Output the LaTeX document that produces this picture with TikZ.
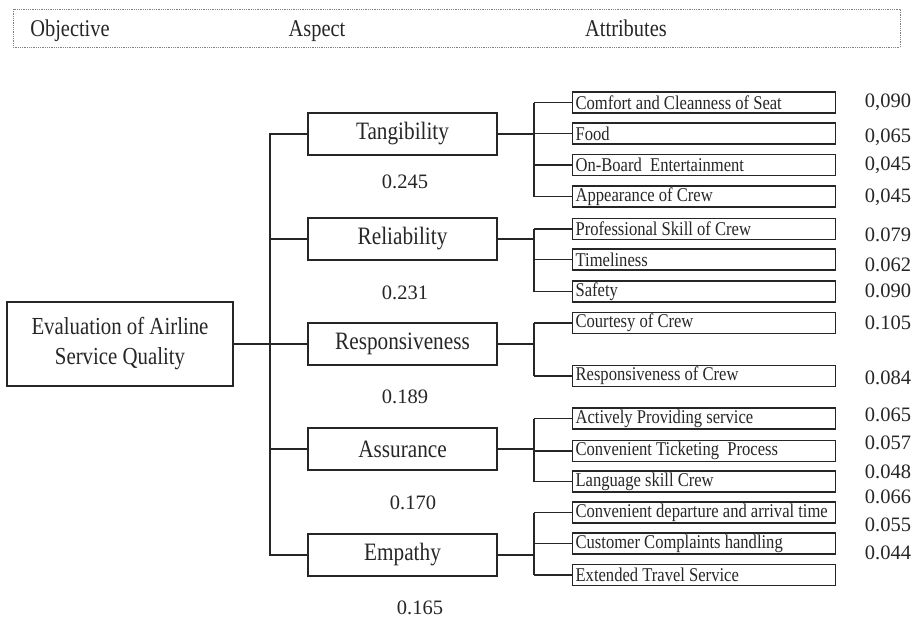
\documentclass[tikz,border=0pt]{standalone}
\usepackage{fontspec}
\newfontfamily\tnr[FakeStretch=0.85]{Liberation Serif}
\newfontfamily\tnn{Liberation Serif}
\newcommand{\lt}[1]{\makebox[257pt][l]{#1}}
\begin{document}
\begin{tikzpicture}[x=1pt,y=-1pt,
  lin/.style={draw=black!85,line width=1.2pt},
  objbox/.style={lin,rectangle,minimum width=226,minimum height=84,inner sep=0pt,align=center,
    font={\tnr\fontsize{24.5}{30}\selectfont},text=black!85},
  aspbox/.style={lin,rectangle,minimum width=189,minimum height=42,inner sep=0pt,
    font={\tnr\fontsize{25}{27}\selectfont},text=black!85},
  attrbox/.style={lin,rectangle,anchor=west,minimum height=21,minimum width=263,inner xsep=3pt,inner ysep=0pt,
    font={\tnr\fontsize{19.5}{21}\selectfont},text=black!85},
  num/.style={inner sep=0pt,font={\tnn\fontsize{20.5}{22}\selectfont},text=black!85},
  head/.style={inner sep=0pt,anchor=base,font={\tnr\fontsize{24}{26}\selectfont},text=black!85},
  conn/.style={draw=black!85,line width=1.1pt}]
\useasboundingbox (0,0) rectangle (918,622);
% header
\draw[black!50,densely dotted,line width=0.8pt] (13,9) rectangle (900,47);
\node[head] (hobj) at (70,36) {Objective};
\node[head] (hasp) at (317,36) {Aspect};
\node[head] (hatt) at (626,36) {Attributes};
% objective
\node[objbox] (obj) at (120,344) {Evaluation of Airline\\Service Quality};
% aspects
\node[aspbox] (tang) at (402.5,134) {Tangibility};
\node[aspbox] (rel) at (402.5,239) {Reliability};
\node[aspbox] (resp) at (402.5,344) {Responsiveness};
\node[aspbox] (ass) at (402.5,449) {Assurance};
\node[aspbox] (emp) at (402.5,555) {Empathy};
\node[num] (wt) at (405,182) {0.245};
\node[num] (wr) at (405,293) {0.231};
\node[num] (wp) at (405,397) {0.189};
\node[num] (wa) at (413,503) {0.170};
\node[num] (we) at (420,608) {0.165};
% attributes
\node[attrbox] (a1) at (572,102.5) {\lt{Comfort and Cleanness of Seat}};
\node[attrbox] (a2) at (572,133.5) {\lt{Food}};
\node[attrbox] (a3) at (572,165) {\lt{On-Board\ \ Entertainment}};
\node[attrbox] (a4) at (572,196.5) {\lt{Appearance of Crew}};
\node[attrbox] (b1) at (572,229) {\lt{Professional Skill of Crew}};
\node[attrbox] (b2) at (572,259.5) {\lt{Timeliness}};
\node[attrbox] (b3) at (572,291.5) {\lt{Safety}};
\node[attrbox] (c1) at (572,323) {\lt{Courtesy of Crew}};
\node[attrbox] (c2) at (572,376) {\lt{Responsiveness of Crew}};
\node[attrbox] (d1) at (572,418.5) {\lt{Actively Providing service}};
\node[attrbox] (d2) at (572,451) {\lt{Convenient Ticketing\ \ Process}};
\node[attrbox] (d3) at (572,481.5) {\lt{Language skill Crew}};
\node[attrbox] (e1) at (572,512.5) {\lt{Convenient departure and arrival time}};
\node[attrbox] (e2) at (572,543.5) {\lt{Customer Complaints handling}};
\node[attrbox] (e3) at (572,575) {\lt{Extended Travel Service}};
% attribute weights
\node[num] (n1) at (888,102) {0,090};
\node[num] (n2) at (888,137) {0,065};
\node[num] (n3) at (888,165) {0,045};
\node[num] (n4) at (888,197) {0,045};
\node[num] (n5) at (888,235) {0.079};
\node[num] (n6) at (888,265) {0.062};
\node[num] (n7) at (888,291) {0.090};
\node[num] (n8) at (888,323) {0.105};
\node[num] (n9) at (888,378) {0.084};
\node[num] (n10) at (888,415) {0.065};
\node[num] (n11) at (888,443) {0.057};
\node[num] (n12) at (888,472) {0.048};
\node[num] (n13) at (888,497) {0.066};
\node[num] (n14) at (888,525) {0.055};
\node[num] (n15) at (888,553) {0.044};
% trunk
\coordinate (tr) at (270,0);
\coordinate (br) at (534,0);
\draw[conn] (obj.east) -- (resp.west);
\draw[conn] (tang.west) -- (tang.west -| tr) -- (emp.west -| tr) -- (emp.west);
\draw[conn] (rel.west) -- (rel.west -| tr);
\draw[conn] (ass.west) -- (ass.west -| tr);
% brackets
\foreach \asp/\first/\last/\all in {tang/a1/a4/{a1,a2,a3,a4},rel/b1/b3/{b1,b2,b3},resp/c1/c2/{c1,c2},ass/d1/d3/{d1,d2,d3},emp/e1/e3/{e1,e2,e3}}{
  \draw[conn] (\asp.east) -- (\asp.east -| br);
  \draw[conn] (\first.west -| br) -- (\last.west -| br);
  \foreach \a in \all {\draw[conn] (\a.west) -- (\a.west -| br);}
}
\end{tikzpicture}
\end{document}
